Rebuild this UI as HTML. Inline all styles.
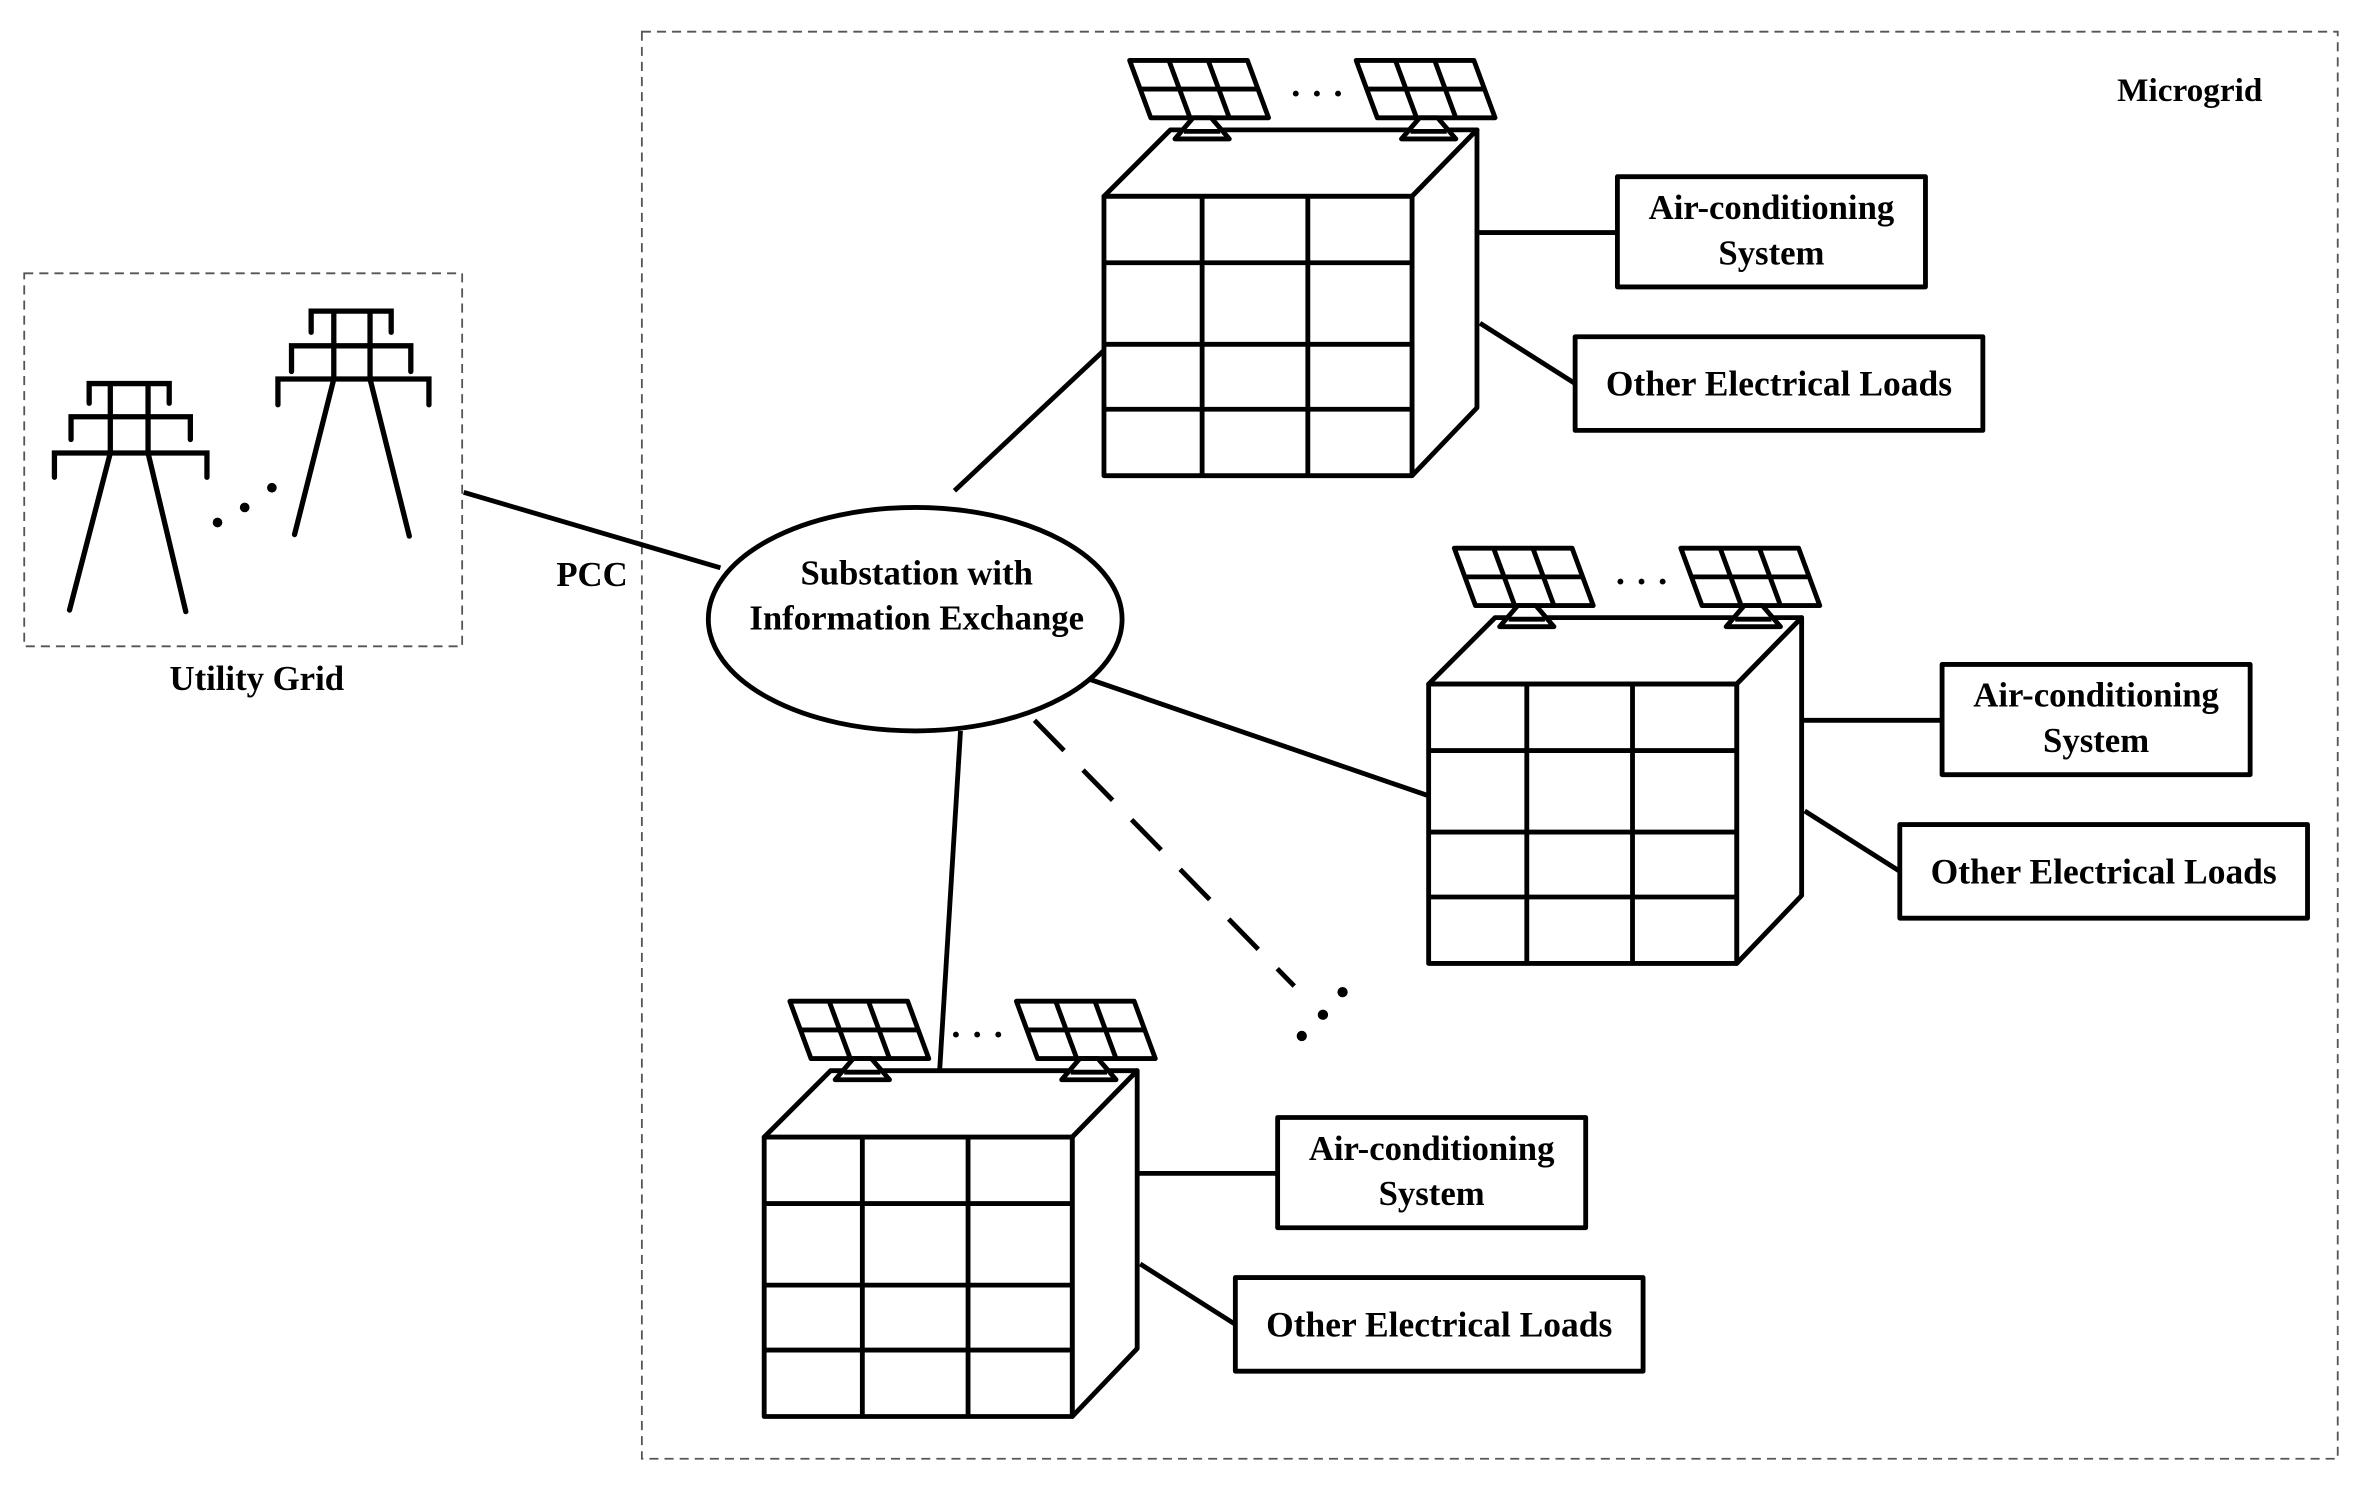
<!DOCTYPE html>
<html><head><meta charset="utf-8"><style>
html,body{margin:0;padding:0;background:#fff;}
svg{display:block;}
text{font-family:"Liberation Serif",serif;font-weight:bold;fill:#000;}
</style></head><body>
<svg width="2368" height="1492" viewBox="0 0 1568 988" xmlns="http://www.w3.org/2000/svg">
<defs>
<g id="panel" fill="none" stroke="#000" stroke-width="3.2" stroke-linejoin="round">
  <polygon points="0,0 78,0 92,38 14,38" fill="#fff"/>
  <line x1="7" y1="19" x2="85" y2="19"/>
  <line x1="26" y1="0" x2="40" y2="38"/>
  <line x1="52" y1="0" x2="66" y2="38"/>
  <polygon points="42,38 54,38 66,52 30,52" fill="#fff"/>
  <line x1="36" y1="47" x2="60" y2="47"/>
</g>
<g id="bldg" fill="none" stroke="#000" stroke-width="3.2" stroke-linejoin="round">
  <polygon points="0,89 44,45 247,45 204,89" fill="#fff"/>
  <polygon points="204,89 247,45 247,229 204,274" fill="#fff"/>
  <use href="#panel" x="17" y="-1"/>
  <use href="#panel" x="167" y="-1"/>
  <text x="141" y="29" font-size="24" stroke="none" text-anchor="middle">· · ·</text>
  <rect x="0" y="89" width="204" height="185" fill="#fff"/>
  <line x1="65" y1="89" x2="65" y2="274"/>
  <line x1="135" y1="89" x2="135" y2="274"/>
  <line x1="0" y1="133" x2="204" y2="133"/>
  <line x1="0" y1="187" x2="204" y2="187"/>
  <line x1="0" y1="230" x2="204" y2="230"/>
  <line x1="247" y1="113" x2="340" y2="113"/>
  <line x1="249" y1="173" x2="312" y2="213"/>
  <rect x="340" y="76" width="204" height="73" fill="#fff"/>
  <rect x="312" y="182" width="270" height="62" fill="#fff"/>
  <text x="442" y="104" font-size="23" stroke="none" text-anchor="middle">Air-conditioning</text>
  <text x="442" y="134" font-size="23" stroke="none" text-anchor="middle">System</text>
  <text x="447" y="221" font-size="23.5" stroke="none" text-anchor="middle">Other Electrical Loads</text>
</g>
</defs>
<rect x="425" y="21" width="1123" height="945" fill="none" stroke="#555" stroke-width="1.2" stroke-dasharray="6,4"/>
<rect x="16" y="181" width="290" height="247" fill="none" stroke="#555" stroke-width="1.2" stroke-dasharray="6,4"/>
<text x="1450" y="67" font-size="22" text-anchor="middle">Microgrid</text>
<text x="170" y="457" font-size="23" text-anchor="middle">Utility Grid</text>
<text x="392" y="388" font-size="23" text-anchor="middle">PCC</text>
<g fill="none" stroke="#000" stroke-width="3.5" stroke-linecap="round">
  <path d="M59,267 V254 H112 V267 M47,291 V276 H126 V291 M36,316 V300 H137 V316 M73,254 V300 M98,254 V300 M73,300 L46,404 M98,300 L123,405"/>
  <path d="M206,220 V206 H259 V220 M193,246 V229 H272 V246 M184,268 V251 H284 V268 M221,206 V251 M245,206 V251 M221,251 L195,354 M245,251 L271,355"/>
</g>
<circle cx="144" cy="346" r="3.2" fill="#000"/><circle cx="162" cy="336" r="3.2" fill="#000"/><circle cx="180" cy="323" r="3.2" fill="#000"/>
<g stroke="#000" stroke-width="3.2" fill="none">
  <line x1="307" y1="326" x2="477" y2="376"/>
  <line x1="632" y1="325" x2="731" y2="232"/>
  <line x1="722" y1="450" x2="946" y2="527"/>
  <line x1="636" y1="484" x2="622" y2="712"/>
  <line x1="685" y1="477" x2="857" y2="653" stroke-dasharray="28,18"/>
</g>
<circle cx="862" cy="686" r="3.4" fill="#000"/><circle cx="876" cy="672" r="3.4" fill="#000"/><circle cx="889" cy="657" r="3.4" fill="#000"/>
<ellipse cx="606" cy="410" rx="137" ry="74" fill="#fff" stroke="#000" stroke-width="3.2"/>
<text x="607" y="387" font-size="23" text-anchor="middle">Substation with</text>
<text x="607" y="417" font-size="23" text-anchor="middle">Information Exchange</text>
<use href="#bldg" transform="translate(731,41)"/>
<use href="#bldg" transform="translate(946,364)"/>
<use href="#bldg" transform="translate(506,664)"/>
</svg>
</body></html>
